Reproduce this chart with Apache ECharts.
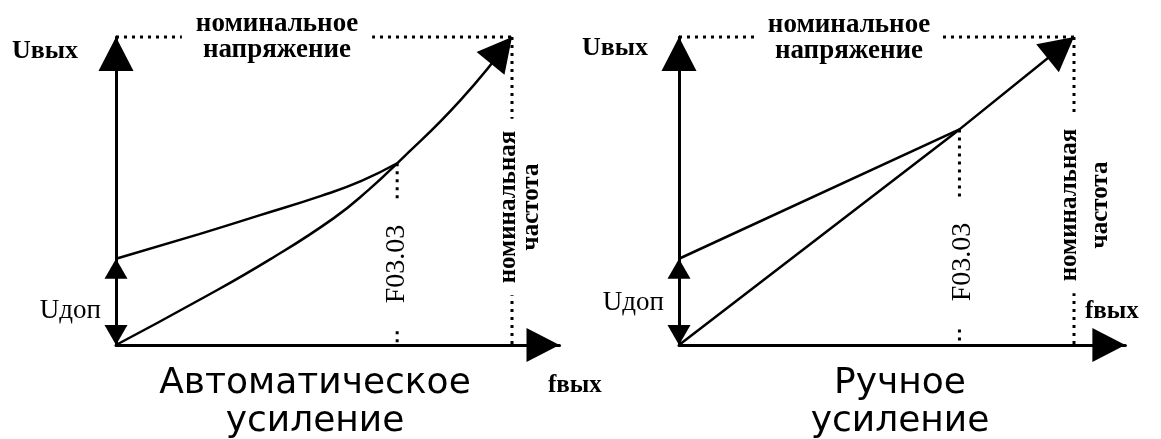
<!DOCTYPE html>
<html lang="ru">
<head>
<meta charset="utf-8"/>
<title>Автоматическое и ручное усиление</title>
<script src="https://cdn.jsdelivr.net/npm/echarts@6/dist/echarts.min.js"></script>
</head>
<body style="margin:0;background:#fff">
<div id="chart" style="width:1161px;height:439px"></div>
<script>
// all values in % of nominal: x = output frequency, y = output voltage
const titles = ['Автоматическое\nусиление', 'Ручное\nусиление'];
const nominalF = 100;
const nominalU = 100;
const uBoost = [28, 28];          // Uдоп
const fBreak = [71, 71];          // F03.03
const upperCurves = [
    [[0, 28], [21, 36], [36, 42], [52, 48.5], [62, 53.3], [71, 59]],
    [[0, 28], [71, 70]]
];
const lowerCurves = [
    [[0, 0], [21, 14.6], [39, 27.9], [55, 41.2], [64, 50.6], [71, 59], [87, 79.5], [100, 100]],
    [[0, 0], [71, 70], [100, 100]]
];
const xMax = [112, 113];
const yMax = 100;

// filled triangle whose tip sits at the symbol centre
function tipArrow(w, h) {
    const s = Math.max(w, 2 * h);
    return {
        path: 'path://M' + (-s / 2) + ',0M' + (s / 2) + ',' + s + 'M0,' + (s / 2) +
            'L' + (w / 2) + ',' + (s / 2 + h) + 'L' + (-w / 2) + ',' + (s / 2 + h) + 'Z',
        size: s
    };
}
const axArrowX = tipArrow(34, 33);
const axArrowY = tipArrow(35, 34);
const curveArrow = tipArrow(36, 34);
const boostArrow = tipArrow(23, 20);

const grids = [
    {left: 116, top: 37, width: 112 * 3.96, height: 308},
    {left: 679, top: 37, width: 113 * 3.95, height: 308}
];

const dotted = {color: '#000', width: 3, type: [3, 5], cap: 'butt'};
const solid = {color: '#000', width: 2.5};

let xAxes = [], yAxes = [], series = [];
for (let i = 0; i < 2; i++) {
    xAxes.push({
        gridIndex: i, type: 'value', min: 0, max: xMax[i],
        axisLine: {show: true, symbol: ['none', axArrowX.path], symbolSize: [axArrowX.size, axArrowX.size],
            lineStyle: {color: '#000', width: 3}},
        axisTick: {show: false}, axisLabel: {show: false}, splitLine: {show: false}
    });
    yAxes.push({
        gridIndex: i, type: 'value', min: 0, max: yMax,
        axisLine: {show: true, symbol: ['none', axArrowY.path], symbolSize: [axArrowY.size, axArrowY.size],
            lineStyle: {color: '#000', width: 3}},
        axisTick: {show: false}, axisLabel: {show: false}, splitLine: {show: false}
    });

    const up = upperCurves[i];
    const low = lowerCurves[i];
    const junctionU = up[up.length - 1][1];
    const base = {type: 'line', xAxisIndex: i, yAxisIndex: i, symbol: 'none', clip: false, silent: true};
    const smooth = {smooth: i === 0 ? 0.5 : false};

    // nominal voltage / nominal frequency / F03.03 guides
    series.push(Object.assign({}, base, {data: [[0, nominalU], [nominalF, nominalU]], lineStyle: dotted}));
    series.push(Object.assign({}, base, {data: [[nominalF, nominalU], [nominalF, 0]], lineStyle: dotted}));
    series.push(Object.assign({}, base, {data: [[fBreak[i], junctionU], [fBreak[i], 0]], lineStyle: dotted}));

    // characteristics
    series.push(Object.assign({}, base, smooth, {data: up, lineStyle: solid}));
    series.push(Object.assign({}, base, smooth, {data: low, lineStyle: solid}));

    // arrow head at the end of the lower curve
    series.push({
        type: 'lines', coordinateSystem: 'cartesian2d', xAxisIndex: i, yAxisIndex: i,
        silent: true, clip: false,
        symbol: ['none', curveArrow.path], symbolSize: [0, curveArrow.size],
        lineStyle: {color: '#000', width: 0, opacity: 1},
        data: [{coords: [low[low.length - 2], low[low.length - 1]]}]
    });

    // Uдоп double arrow
    series.push({
        type: 'lines', coordinateSystem: 'cartesian2d', xAxisIndex: i, yAxisIndex: i,
        silent: true, clip: false,
        symbol: [boostArrow.path, boostArrow.path], symbolSize: [boostArrow.size, boostArrow.size],
        lineStyle: {color: '#000', width: 3, opacity: 1},
        data: [{coords: [[0, 0], [0, uBoost[i]]]}]
    });
}

const serif = '"Liberation Serif", "DejaVu Serif", serif';
const sans = '"DejaVu Sans", sans-serif';
function txt(text, x, y, size, opts) {
    opts = opts || {};
    const style = {
        text: text, fill: '#000',
        font: (opts.bold ? 'bold ' : '') + size + 'px ' + (opts.family || serif),
        align: opts.align || 'center', verticalAlign: 'middle'
    };
    if (opts.lh) style.lineHeight = opts.lh;
    if (opts.pad) {
        style.backgroundColor = '#fff';
        style.padding = opts.pad;
    }
    return {type: 'text', x: x, y: y, rotation: opts.rot || 0, z: 100, silent: true, style: style};
}
const graphic = [
    // left
    txt('Uвых', 78, 51, 26, {bold: true, align: 'right'}),
    txt('номинальное\nнапряжение', 277, 37, 27, {bold: true, lh: 26, pad: [0, 14]}),
    txt('Uдоп', 101, 311, 27, {align: 'right'}),
    txt('F03.03', 397, 264, 28, {rot: Math.PI / 2, pad: [0, 24]}),
    txt('номинальная\nчастота', 520, 207, 25, {bold: true, rot: Math.PI / 2, lh: 23, pad: [2, 12]}),
    txt('fвых', 548, 386, 25, {bold: true, align: 'left'}),
    txt(titles[0], 315, 403, 36, {family: sans, lh: 38}),
    // right
    txt('Uвых', 648, 48, 26, {bold: true, align: 'right'}),
    txt('номинальное\nнапряжение', 849, 38, 27, {bold: true, lh: 26, pad: [0, 12]}),
    txt('Uдоп', 664, 303, 27, {align: 'right'}),
    txt('F03.03', 963, 262, 28, {rot: Math.PI / 2, pad: [0, 24]}),
    txt('номинальная\nчастота', 1085, 205, 25, {bold: true, rot: Math.PI / 2, lh: 31, pad: [2, 12]}),
    txt('fвых', 1085, 312, 25, {bold: true, align: 'left'}),
    txt(titles[1], 900, 403, 36, {family: sans, lh: 38})
];

const chart = echarts.init(document.getElementById('chart'));
chart.setOption({
    animation: false,
    backgroundColor: '#fff',
    grid: grids,
    xAxis: xAxes,
    yAxis: yAxes,
    series: series,
    graphic: graphic
});
</script>
</body>
</html>
